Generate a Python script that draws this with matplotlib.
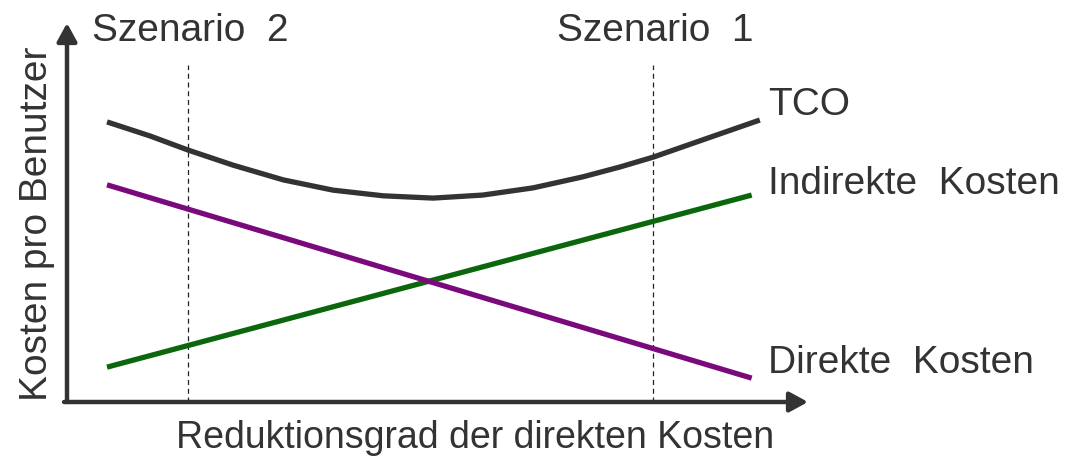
import matplotlib.pyplot as plt

plt.rcParams['font.family'] = ['Liberation Sans', 'DejaVu Sans']

# x/y in 0..100 units along the axes
tco_x = [5.4, 11.2, 16.3, 22.4, 29.2, 35.9, 42.7, 49.4, 56.1, 62.9, 69.6, 74.6, 79.1, 85.4, 93.5]
tco_y = [73.9, 70.2, 66.5, 62.5, 58.6, 55.9, 54.4, 53.8, 54.6, 56.5, 59.4, 62.0, 64.6, 68.9, 74.4]
indirekt_x = [5.4, 92.4]
indirekt_y = [9.2, 54.6]
direkt_x = [5.4, 92.4]
direkt_y = [57.3, 6.3]
szenarien = {'Szenario  2': 16.3, 'Szenario  1': 79.1}

txt = '#333333'
fs = 28

fig = plt.figure(figsize=(10.77, 4.61), dpi=100)
ax = fig.add_axes([67 / 1077, 59 / 461, 741 / 1077, 379 / 461])
ax.set_xlim(0, 100)
ax.set_ylim(0, 100)
ax.axis('off')

for name, xs in szenarien.items():
    ax.plot([xs, xs], [0, 88.9], color='#222222', lw=0.9, ls=(0, (4, 3)))
    ax.text(xs + 0.3, 98.0, name, ha='center', va='center', fontsize=fs, color=txt, clip_on=False)

ax.plot(indirekt_x, indirekt_y, color='#0b670b', lw=3.8, solid_capstyle='butt')
ax.plot(direkt_x, direkt_y, color='#7a0a7c', lw=3.8, solid_capstyle='butt')
ax.plot(tco_x, tco_y, color='#333333', lw=3.8, solid_capstyle='butt', solid_joinstyle='round')

ax.text(94.6, 78.4, 'TCO', ha='left', va='center', fontsize=fs, color=txt, clip_on=False)
ax.text(94.6, 57.5, 'Indirekte  Kosten', ha='left', va='center', fontsize=fs, color=txt, clip_on=False)
ax.text(94.6, 10.3, 'Direkte  Kosten', ha='left', va='center', fontsize=fs, color=txt, clip_on=False)

# axes with arrow heads
arrow = dict(arrowstyle='-|>,head_length=1.1,head_width=0.6', color='#333333', lw=3.2, shrinkA=0, shrinkB=0)
ax.annotate('', xy=(0, 100), xytext=(0, 0), arrowprops=arrow, annotation_clip=False)
ax.annotate('', xy=(100, 0), xytext=(-0.4, 0), arrowprops=arrow, annotation_clip=False)

fig.text(37 / 1077, 1 - 224 / 461, 'Kosten pro Benutzer', rotation=90, ha='center', va='center', fontsize=fs, color=txt)
fig.text(475 / 1077, 1 - 438 / 461, 'Reduktionsgrad der direkten Kosten', ha='center', va='center', fontsize=27, color=txt)

fig.savefig('out.png', dpi=100, facecolor='white')
